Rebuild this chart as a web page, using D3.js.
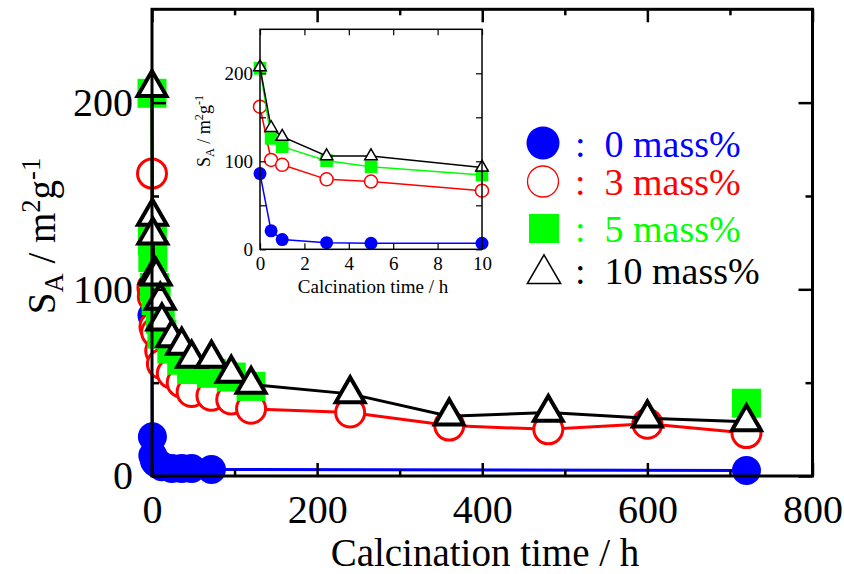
<!DOCTYPE html>
<html>
<head>
<meta charset="utf-8">
<script src="https://cdn.jsdelivr.net/npm/d3@7"></script>
<style>
body { margin: 0; background: #fff; }
svg { display: block; }
</style>
</head>
<body>
<svg id="chart" width="844" height="574"></svg>
<script>
// main plot data (calcination time in h, S_A in m2/g)
const hours = [0, 0.5, 1, 3, 5, 10, 12, 24, 36, 48, 72, 96, 120, 240, 360, 480, 600, 720];
const hoursBlue = [0, 0.5, 1, 3, 5, 10, 12, 24, 36, 48, 72, 720];
const sa0 = [86, 21, 11, 8, 7, 6, 5, 4, 4, 4, 3.5, 3];
const sa3 = [162, 101, 96, 80, 77, 67, 60, 55, 50, 45, 43, 41, 36, 34, 27, 25, 28, 23];
// 5 mass%: no visible points between 120 h and 720 h
const sa5 = [205, 126, 117, 101, 94, 84, 76, 68, 62, 57, 55, 53, 48, null, null, null, null, 39];
const sa10 = [208, 139, 129, 108, 107, 94, 83, 74, 70, 63, 63, 55, 49, 44, 32, 34, 31, 29];

// inset data (first 10 h)
const insetHours = [0, 0.5, 1, 3, 5, 10];
const inset0 = [86, 21, 11, 7.5, 6.8, 6.8];
const inset3 = [162, 101.5, 96, 79.5, 77, 66.6];
const inset5 = [205.6, 126, 116.6, 100.7, 93.9, 84.4];
const inset10 = [207, 138, 128, 106, 106, 93];

const legendLabels = ["0 mass%", "3 mass%", "5 mass%", "10 mass%"];
const mainXTicks = [0, 200, 400, 600, 800];
const mainYTicks = [0, 100, 200];
const insetXTicks = [0, 2, 4, 6, 8, 10];
const insetYTicks = [0, 100, 200];

const BLUE = "#0000ff", RED = "#ff0000", GREEN = "#00ff00", BLACK = "#000000";
const FONT = "'Liberation Serif', 'Times New Roman', 'DejaVu Serif', serif";

const svg = d3.select("#chart").attr("font-family", FONT);

const x = d3.scaleLinear().domain([0, 800]).range([152, 812.5]);
const y = d3.scaleLinear().domain([0, 250]).range([476, 9.3]);

const xIn = d3.scaleLinear().domain([0, 10]).range([260, 482]);
const yIn = d3.scaleLinear().domain([0, 250]).range([249.3, 29.3]);

function pairs(ts, vs) {
    return ts.map((t, i) => [t, vs[i]]);
}

// one series: line then markers
function drawSeries(g, xs, ys, pts, kind, color, s) {
    const line = d3.line().defined(d => d[1] != null).x(d => xs(d[0])).y(d => ys(d[1]));
    g.append("path")
        .attr("d", line(pts))
        .attr("fill", "none")
        .attr("stroke", color)
        .attr("stroke-width", s.lw);

    const m = g.append("g").selectAll("g").data(pts.filter(d => d[1] != null)).join("g")
        .attr("transform", d => `translate(${xs(d[0])},${ys(d[1])})`);

    if (kind === "dot") {
        m.append("circle").attr("r", s.r).attr("fill", color);
    } else if (kind === "ring") {
        m.append("circle").attr("r", s.r).attr("fill", "#fff")
            .attr("stroke", color).attr("stroke-width", s.sw);
    } else if (kind === "square") {
        m.append("rect").attr("x", -s.half).attr("y", -s.half)
            .attr("width", s.half * 2).attr("height", s.half * 2).attr("fill", color);
    } else {
        m.append("path").attr("d", d3.symbol(d3.symbolTriangle, s.tri)())
            .attr("fill", "#fff").attr("stroke", color)
            .attr("stroke-width", s.sw).attr("stroke-linejoin", "miter");
    }
}

// ----- main plot -----
const main = svg.append("g");
const mainSize = { lw: 3, r: 14.5, sw: 3, half: 14.5, tri: 360 };

drawSeries(main, x, y, pairs(hoursBlue, sa0), "dot", BLUE, mainSize);
drawSeries(main, x, y, pairs(hours, sa3), "ring", RED, mainSize);
drawSeries(main, x, y, pairs(hours, sa5), "square", GREEN, mainSize);
drawSeries(main, x, y, pairs(hours, sa10), "tri", BLACK, { ...mainSize, sw: 4 });

function styleAxis(sel, fontSize) {
    sel.attr("font-family", FONT);
    sel.select(".domain").remove();
    sel.selectAll(".tick line").attr("stroke", "#000").attr("stroke-width", fontSize > 30 ? 2.5 : 1.2);
    sel.selectAll(".tick text").attr("fill", "#000").attr("font-size", fontSize);
}

const bottomY = y(0), topY = y(250), leftX = x(0), rightX = x(800);

// bottom
const bMaj = main.append("g").attr("transform", `translate(0,${bottomY})`)
    .call(d3.axisBottom(x).tickValues(mainXTicks).tickSize(-13).tickFormat(d3.format("d")));
styleAxis(bMaj, 40);
bMaj.selectAll(".tick text").attr("y", 47).attr("dy", 0);
const bMin = main.append("g").attr("transform", `translate(0,${bottomY})`)
    .call(d3.axisBottom(x).tickValues([100, 300, 500, 700]).tickSize(-6).tickFormat(""));
styleAxis(bMin, 40);
// top
const tMaj = main.append("g").attr("transform", `translate(0,${topY})`)
    .call(d3.axisTop(x).tickValues(mainXTicks).tickSize(-13).tickFormat(""));
styleAxis(tMaj, 40);
const tMin = main.append("g").attr("transform", `translate(0,${topY})`)
    .call(d3.axisTop(x).tickValues([100, 300, 500, 700]).tickSize(-6).tickFormat(""));
styleAxis(tMin, 40);
// left
const lMaj = main.append("g").attr("transform", `translate(${leftX},0)`)
    .call(d3.axisLeft(y).tickValues(mainYTicks).tickSize(-14).tickPadding(19).tickFormat(d3.format("d")));
styleAxis(lMaj, 40);
const lMin = main.append("g").attr("transform", `translate(${leftX},0)`)
    .call(d3.axisLeft(y).tickValues([50, 150]).tickSize(-7).tickFormat(""));
styleAxis(lMin, 40);
// right
const rMaj = main.append("g").attr("transform", `translate(${rightX},0)`)
    .call(d3.axisRight(y).tickValues(mainYTicks).tickSize(-14).tickFormat(""));
styleAxis(rMaj, 40);
const rMin = main.append("g").attr("transform", `translate(${rightX},0)`)
    .call(d3.axisRight(y).tickValues([50, 150]).tickSize(-7).tickFormat(""));
styleAxis(rMin, 40);

main.append("rect")
    .attr("x", leftX).attr("y", topY)
    .attr("width", rightX - leftX).attr("height", bottomY - topY)
    .attr("fill", "none").attr("stroke", "#000").attr("stroke-width", 3);

// axis titles
main.append("text")
    .attr("x", 485).attr("y", 566)
    .attr("text-anchor", "middle").attr("font-size", 39)
    .text("Calcination time / h");

function saTitle(g, cx, cy, size) {
    const t = g.append("text")
        .attr("transform", `translate(${cx},${cy}) rotate(-90)`)
        .attr("text-anchor", "middle").attr("font-size", size);
    t.append("tspan").text("S");
    t.append("tspan").attr("font-size", size * 0.68).attr("dy", size * 0.2).text("A");
    t.append("tspan").attr("dy", -size * 0.2).text(" / m");
    t.append("tspan").attr("font-size", size * 0.68).attr("dy", -size * 0.38).text("2");
    t.append("tspan").attr("dy", size * 0.38).text("g");
    t.append("tspan").attr("font-size", size * 0.68).attr("dy", -size * 0.38).text("-1");
}
saTitle(main, 55, 236, 39);

// ----- legend -----
const legend = svg.append("g");
const legendY = [156.7, 195, 241.7, 284];
const legendColors = [BLUE, RED, GREEN, BLACK];
legend.append("circle").attr("cx", 543).attr("cy", 143).attr("r", 16.5).attr("fill", BLUE);
legend.append("circle").attr("cx", 543).attr("cy", 181.5).attr("r", 15.5)
    .attr("fill", "#fff").attr("stroke", RED).attr("stroke-width", 1.3);
legend.append("rect").attr("x", 529).attr("y", 214).attr("width", 30).attr("height", 29).attr("fill", GREEN);
legend.append("path").attr("transform", "translate(544,274)")
    .attr("d", d3.symbol(d3.symbolTriangle, 480)())
    .attr("fill", "#fff").attr("stroke", BLACK).attr("stroke-width", 1.5);
legend.selectAll("text.lab").data(legendLabels).join("text")
    .attr("class", "lab")
    .attr("x", 575).attr("y", (d, i) => legendY[i])
    .attr("font-size", 38).attr("fill", (d, i) => legendColors[i])
    .style("white-space", "pre")
    .text(d => ":  " + d);

// ----- inset -----
const inset = svg.append("g");
inset.append("rect")
    .attr("x", xIn(0)).attr("y", yIn(250))
    .attr("width", xIn(10) - xIn(0)).attr("height", yIn(0) - yIn(250))
    .attr("fill", "#fff");

const insetSize = { lw: 1.5, r: 6.5, sw: 1.5, half: 6.3, tri: 68 };
drawSeries(inset, xIn, yIn, pairs(insetHours, inset0), "dot", BLUE, insetSize);
drawSeries(inset, xIn, yIn, pairs(insetHours, inset3), "ring", RED, insetSize);
drawSeries(inset, xIn, yIn, pairs(insetHours, inset5), "square", GREEN, insetSize);
drawSeries(inset, xIn, yIn, pairs(insetHours, inset10), "tri", BLACK, insetSize);

const ib = inset.append("g").attr("transform", `translate(0,${yIn(0)})`)
    .call(d3.axisBottom(xIn).tickValues(insetXTicks).tickSize(-6).tickFormat(d3.format("d")));
styleAxis(ib, 19);
ib.selectAll(".tick text").attr("y", 21).attr("dy", 0);
const it = inset.append("g").attr("transform", `translate(0,${yIn(250)})`)
    .call(d3.axisTop(xIn).tickValues(insetXTicks).tickSize(-6).tickFormat(""));
styleAxis(it, 19);
const il = inset.append("g").attr("transform", `translate(${xIn(0)},0)`)
    .call(d3.axisLeft(yIn).tickValues([0, 50, 100, 150, 200]).tickSize(-6).tickPadding(7)
        .tickFormat(d => insetYTicks.includes(d) ? d : ""));
styleAxis(il, 19);
const ir = inset.append("g").attr("transform", `translate(${xIn(10)},0)`)
    .call(d3.axisRight(yIn).tickValues([0, 50, 100, 150, 200]).tickSize(-6).tickFormat(""));
styleAxis(ir, 19);

inset.append("rect")
    .attr("x", xIn(0)).attr("y", yIn(250))
    .attr("width", xIn(10) - xIn(0)).attr("height", yIn(0) - yIn(250))
    .attr("fill", "none").attr("stroke", "#000").attr("stroke-width", 1.5);

inset.append("text")
    .attr("x", 373).attr("y", 293)
    .attr("text-anchor", "middle").attr("font-size", 19)
    .text("Calcination time / h");
saTitle(inset, 210, 131, 18);
</script>
</body>
</html>
